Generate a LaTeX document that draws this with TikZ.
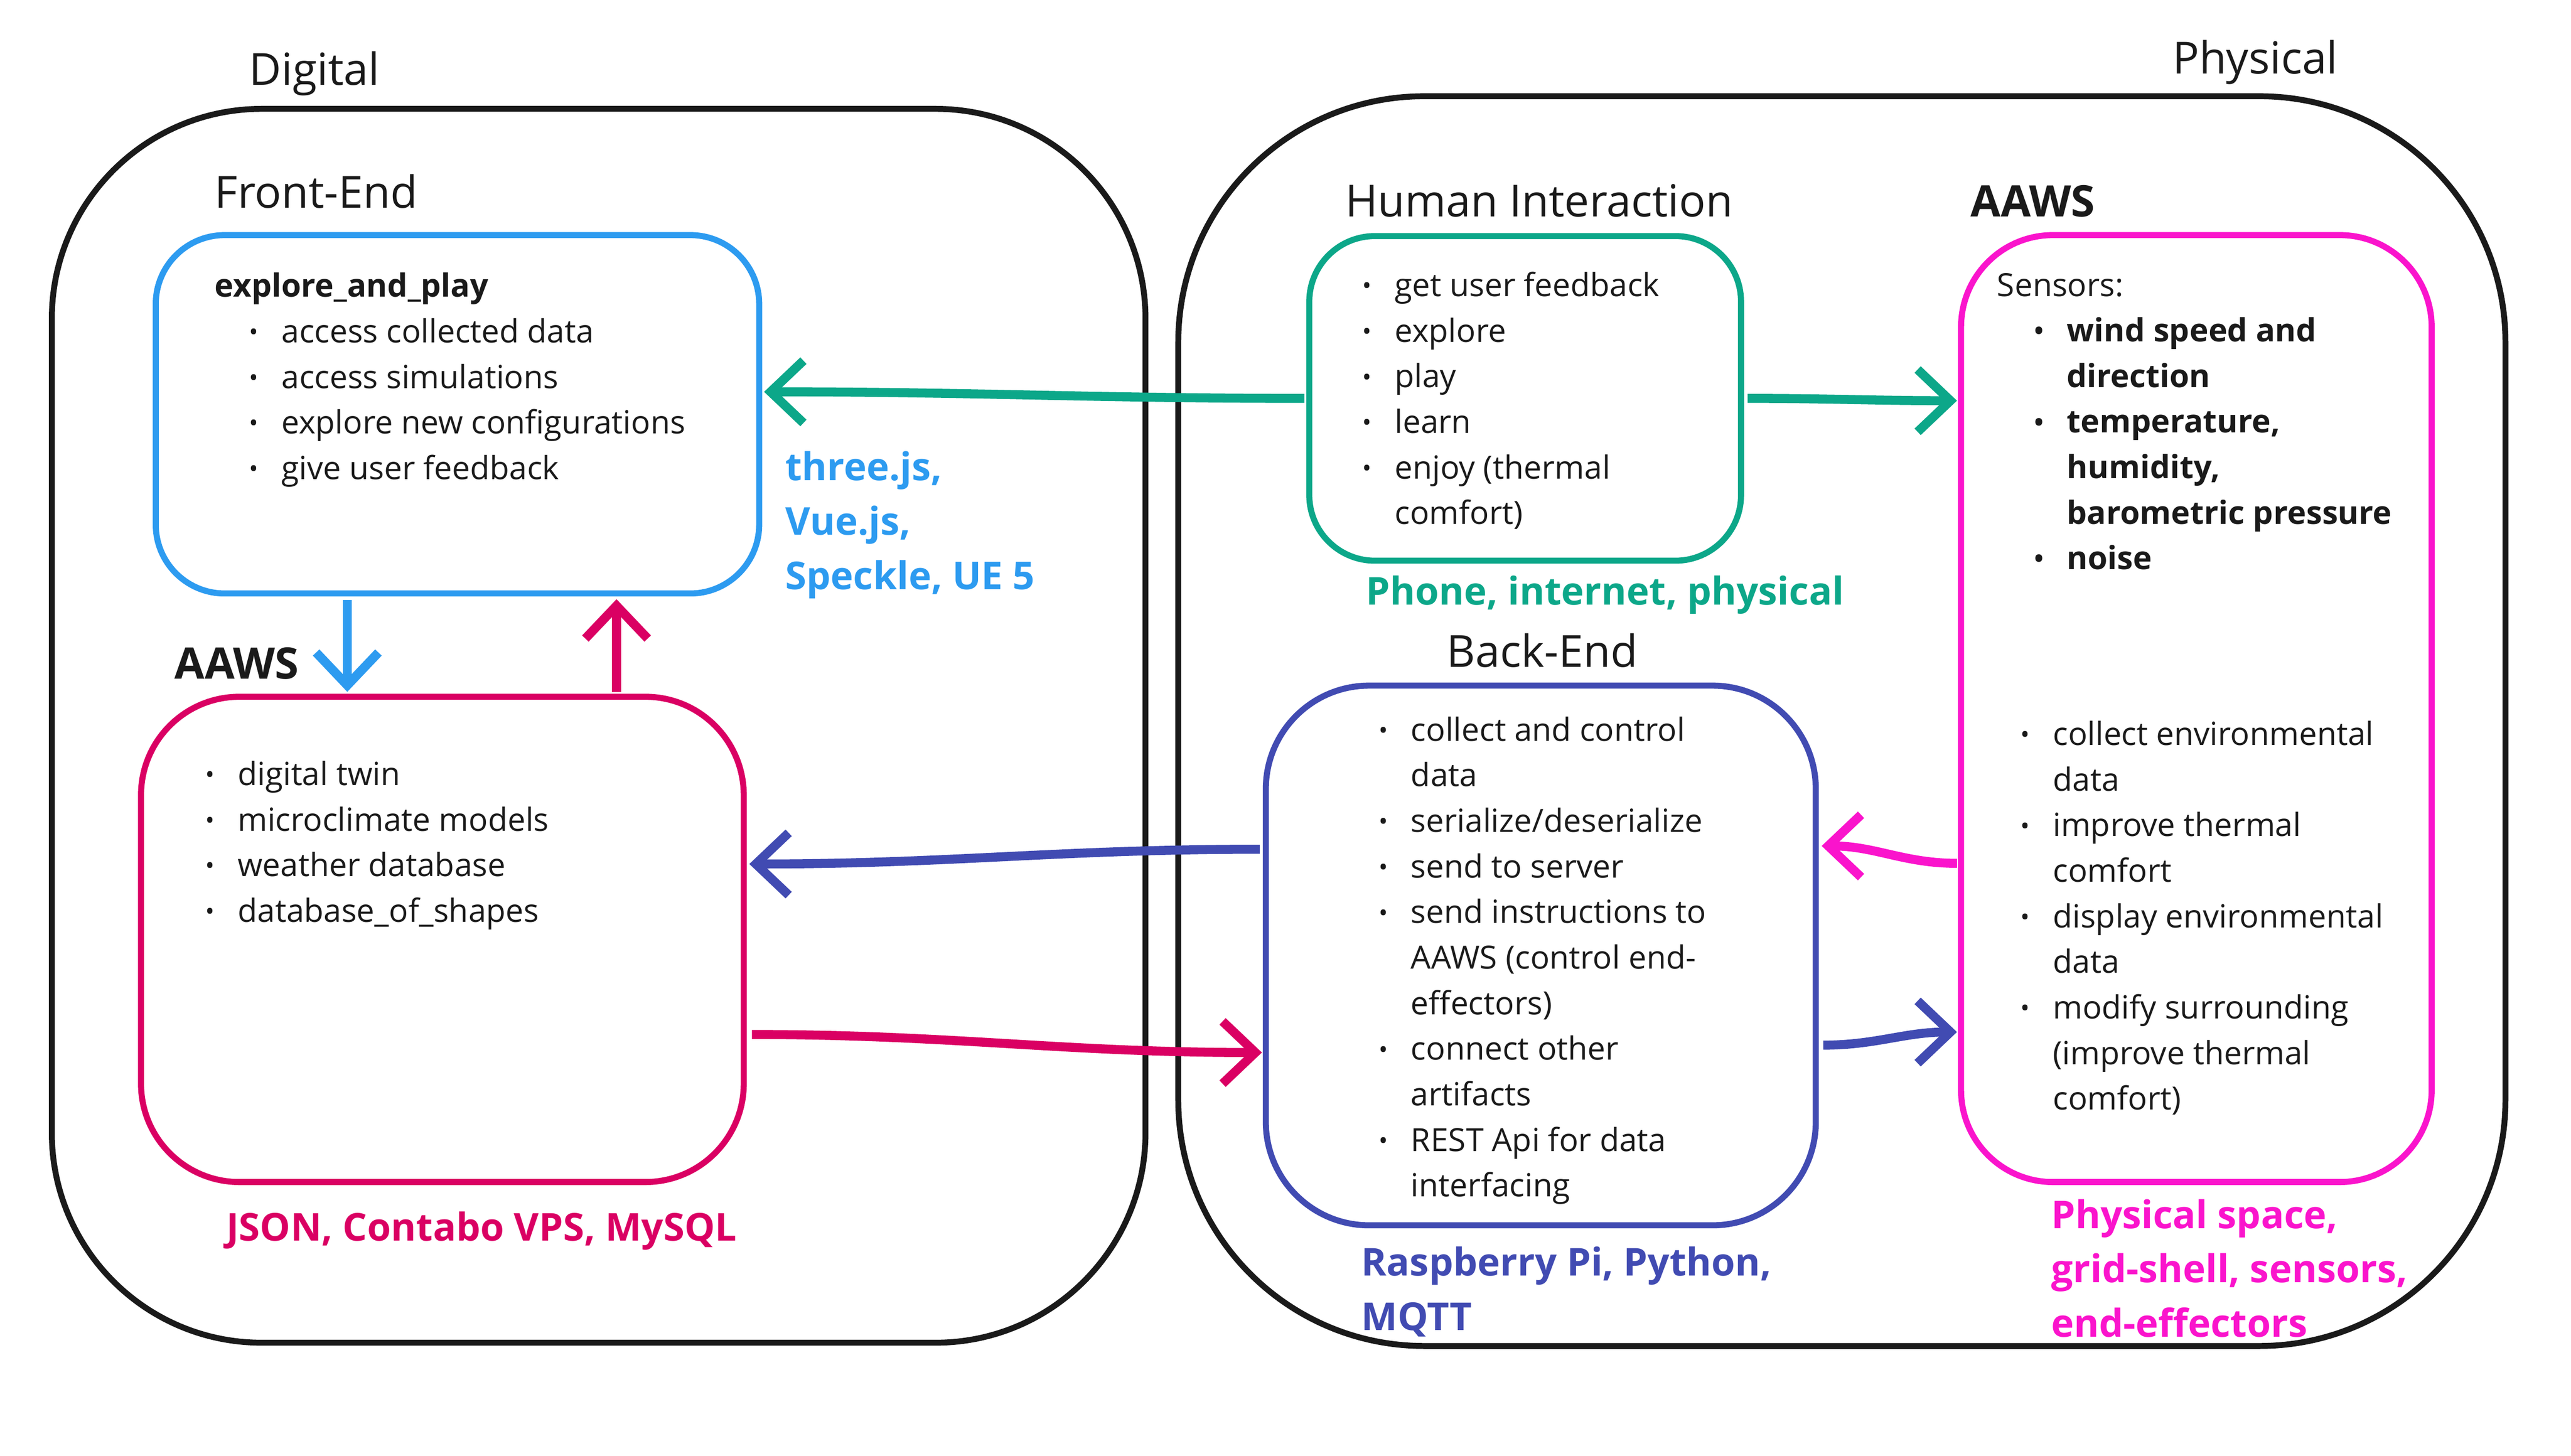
\documentclass[tikz,border=0pt]{standalone}
\usepackage{fontspec}
\setmainfont{Open Sans}
\usetikzlibrary{arrows.meta}
\definecolor{cblue}{HTML}{2D9BF0}
\definecolor{cgreen}{HTML}{0CA789}
\definecolor{ccrim}{HTML}{DA0063}
\definecolor{cpurp}{HTML}{414BB2}
\definecolor{cmag}{HTML}{FA14CC}
\definecolor{cink}{HTML}{1A1A1A}
\newcommand\bul{\llap{\raisebox{1.2pt}{\fontsize{15}{15}\selectfont •}\hspace{14pt}}}
\newcommand\itemfont{\fontsize{19.5}{27.8}\selectfont}
\newcommand\headfont{\fontsize{27}{30}\selectfont}
\newcommand\techfont{\fontsize{23.4}{33.2}\selectfont\bfseries}
\begin{document}
\begin{tikzpicture}[x=1pt,y=-1pt,
  box/.style={draw, rounded corners=#1, inner sep=0pt, outer sep=0pt, anchor=north west, line width=3.7pt},
  outer/.style={draw=cink, rounded corners=#1, inner sep=0pt, outer sep=0pt, anchor=north west, line width=3.6pt},
  txt/.style={inner sep=0pt, outer sep=0pt, anchor=base west, text=cink, yshift=-1pt},
  head/.style={txt, font=\headfont},
  items/.style={txt, font=\itemfont},
  tech/.style={txt, font=\techfont},
  arr/.style={line width=5.5pt, -{Straight Barb[length=20pt,width=38pt]}}
]
\useasboundingbox (0,0) rectangle (1568,888);

% outer regions
\node[outer=128pt, minimum width=667pt, minimum height=752.6pt] (dig) at (31.6,66.4) {};
\node[outer=150pt, minimum width=809.4pt, minimum height=762.3pt] (phy) at (718.6,58.7) {};
\node[head] (digl) at (152,50.8) {Digital};
\node[head] (phyl) at (1325,44) {Physical};

% boxes
\node[box=42pt, draw=cblue, minimum width=368pt, minimum height=218.6pt] (fe) at (95,143.4) {};
\node[box=60pt, draw=ccrim, minimum width=367.6pt, minimum height=296pt] (ad) at (86,425) {};
\node[box=40pt, draw=cgreen, minimum width=263.3pt, minimum height=198pt] (hi) at (798.5,144) {};
\node[box=63pt, draw=cpurp, minimum width=335.4pt, minimum height=329.2pt] (be) at (772,418.2) {};
\node[box=56pt, draw=cmag, minimum width=287pt, minimum height=577.6pt] (ap) at (1196,143.4) {};

% headings
\node[head] (fel) at (131,126) {Front-End};
\node[head] (hil) at (820.4,131.2) {Human Interaction};
\node[head, font=\fontsize{26.5}{30}\selectfont\bfseries] (apl) at (1202,131.2) {AAWS};
\node[head, font=\fontsize{26.5}{30}\selectfont\bfseries] (adl) at (106.6,413) {AAWS};
\node[head] (bel) at (882.4,405.8) {Back-End};

% front-end content
\node[items, font=\itemfont\bfseries] (fet) at (131,180) {explore\_and\_play};
\node[items] (fei) at (171.7,208) {\begin{tabular}[t]{@{}l@{}}
\bul access collected data\\
\bul access simulations\\
\bul explore new configurations\\
\bul give user feedback
\end{tabular}};

% digital AAWS content
\node[items] (adi) at (145,478) {\begin{tabular}[t]{@{}l@{}}
\bul digital twin\\
\bul microclimate models\\
\bul weather database\\
\bul database\_of\_shapes
\end{tabular}};

% human interaction content
\node[items] (hii) at (850.6,179.8) {\begin{tabular}[t]{@{}l@{}}
\bul get user feedback\\
\bul explore\\
\bul play\\
\bul learn\\
\bul enjoy (thermal\\
comfort)
\end{tabular}};

% physical AAWS content
\node[items] (aps) at (1218,179.8) {Sensors:};
\node[items, font=\itemfont\bfseries] (api) at (1260.5,207.4) {\begin{tabular}[t]{@{}l@{}}
\bul wind speed and\\
direction\\
\bul temperature,\\
humidity,\\
barometric pressure\\
\bul noise
\end{tabular}};
\node[items] (apj) at (1252,453.6) {\begin{tabular}[t]{@{}l@{}}
\bul collect environmental\\
data\\
\bul improve thermal\\
comfort\\
\bul display environmental\\
data\\
\bul modify surrounding\\
(improve thermal\\
comfort)
\end{tabular}};

% back-end content
\node[items] (bei) at (860.5,451) {\begin{tabular}[t]{@{}l@{}}
\bul collect and control\\
data\\
\bul serialize/deserialize\\
\bul send to server\\
\bul send instructions to\\
AAWS (control end-\\
effectors)\\
\bul connect other\\
artifacts\\
\bul REST Api for data\\
interfacing
\end{tabular}};

% technology labels
\node[tech, text=cblue] (fetech) at (479,292) {\begin{tabular}[t]{@{}l@{}}three.js,\\ Vue.js,\\ Speckle, UE 5\end{tabular}};
\node[tech, text=cgreen] (hitech) at (833,368) {Phone, internet, physical};
\node[tech, text=ccrim] (adtech) at (138,756) {JSON, Contabo VPS, MySQL};
\node[tech, text=cpurp] (betech) at (830.3,777.3) {\begin{tabular}[t]{@{}l@{}}Raspberry Pi, Python,\\ MQTT\end{tabular}};
\node[tech, text=cmag, font=\fontsize{23.4}{33}\selectfont\bfseries] (aptech) at (1251,748.4) {\begin{tabular}[t]{@{}l@{}}Physical space,\\ grid-shell, sensors,\\ end-effectors\end{tabular}};

% connectors
\draw[arr, cgreen] ([xshift=-3pt]hi.west) to[out=180,in=0] ([xshift=3pt,yshift=13.7pt]fe.east);
\draw[arr, cgreen] ([xshift=4pt]hi.east) to[out=0,in=180] ([xshift=-2.5pt,yshift=187.8pt]ap.west);
\draw[arr, cblue] ([xshift=-67.2pt,yshift=-4pt]fe.south) -- ([xshift=-58pt,yshift=3pt]ad.north);
\draw[arr, ccrim] ([xshift=106.2pt,yshift=3pt]ad.north) -- ([xshift=97pt,yshift=-3.5pt]fe.south);
\draw[arr, cpurp] ([xshift=-3.7pt,yshift=64.8pt]be.west) to[out=180,in=0] ([xshift=3.4pt,yshift=46pt]ad.east);
\draw[arr, ccrim] ([xshift=5pt,yshift=-58pt]ad.east) to[out=0,in=180] ([xshift=-2.4pt,yshift=-59.2pt]be.west);
\draw[arr, cmag] ([xshift=-2.5pt,yshift=-94.4pt]ap.west) to[out=180,in=0] ([xshift=3.6pt,yshift=66.8pt]be.east);
\draw[arr, cpurp] ([xshift=4.6pt,yshift=-54.7pt]be.east) to[out=0,in=180] ([xshift=-2.5pt,yshift=-197.3pt]ap.west);
\end{tikzpicture}
\end{document}
